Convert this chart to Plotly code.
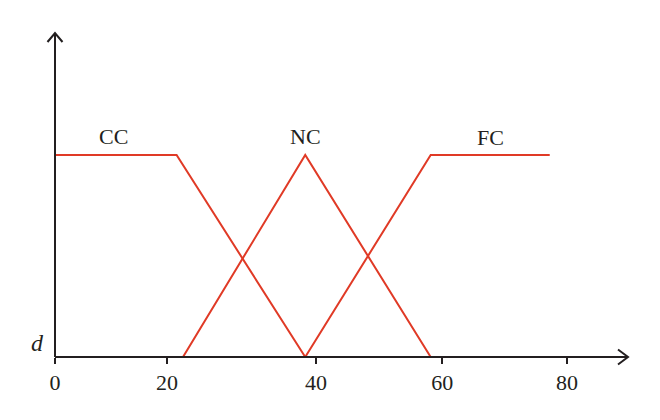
import plotly.graph_objects as go

# Data
series_names = ["CC", "NC", "FC"]
cc_x = [0, 19.0, 39.1]
cc_y = [1, 1, 0]
nc_x = [20.0, 39.1, 58.7]
nc_y = [0, 1, 0]
fc_x = [39.1, 58.7, 77.3]
fc_y = [0, 1, 1]
tick_vals = [0, 17.5, 40.8, 60.5, 80]
tick_text = ["0", "20", "40", "60", "80"]
label_x = [9.2, 39.1, 68.1]
label_y = [1.09, 1.09, 1.085]

RED = "#e03a26"
AX = "#231f20"
FONT = "Liberation Serif"

# pixel scale helpers (plot area 45..640 x, 25..370 y)
PXX = 6.4
PXY = 202.0
xmin, xmax = -10 / PXX, (640 - 55) / PXX
ymin, ymax = -(370 - 357) / PXY, (357 - 25) / PXY
x_tip = (628 - 55) / PXX
y_tip = (357 - 33) / PXY

fig = go.Figure()
for xs, ys in [(cc_x, cc_y), (nc_x, nc_y), (fc_x, fc_y)]:
    fig.add_trace(go.Scatter(x=xs, y=ys, mode="lines",
                             line=dict(color=RED, width=2), showlegend=False,
                             hoverinfo="skip"))

shapes = [
    dict(type="line", xref="x", yref="y", x0=0, y0=0, x1=x_tip, y1=0,
         line=dict(color=AX, width=2)),
    dict(type="line", xref="x", yref="y", x0=0, y0=0, x1=0, y1=y_tip,
         line=dict(color=AX, width=2)),
    dict(type="path", xref="x", yref="y",
         path=f"M {x_tip - 10/PXX},{7.5/PXY} L {x_tip},0 L {x_tip - 10/PXX},{-7.5/PXY}",
         line=dict(color=AX, width=2)),
    dict(type="path", xref="x", yref="y",
         path=f"M {-7.5/PXX},{y_tip - 9/PXY} L 0,{y_tip} L {7.5/PXX},{y_tip - 9/PXY}",
         line=dict(color=AX, width=2)),
]

annotations = []
for name, lx, ly in zip(series_names, label_x, label_y):
    annotations.append(dict(x=lx, y=ly, xref="x", yref="y", text=name,
                            showarrow=False, font=dict(family=FONT, size=22, color=AX)))
annotations.append(dict(x=0, y=0.07, xref="x", yref="y", xshift=-18, text="<i>d</i>",
                        showarrow=False, font=dict(family=FONT, size=24, color=AX)))

fig.update_layout(
    width=660, height=420,
    margin=dict(l=45, r=20, t=25, b=50),
    paper_bgcolor="white", plot_bgcolor="white",
    shapes=shapes, annotations=annotations,
    xaxis=dict(range=[xmin, xmax], showgrid=False, zeroline=False, showline=False,
               tickvals=tick_vals, ticktext=tick_text, ticks="outside", ticklen=6,
               tickwidth=1.5, tickcolor=AX, anchor="free", position=13 / 345,
               tickfont=dict(family=FONT, size=22, color=AX)),
    yaxis=dict(range=[ymin, ymax], visible=False),
)

fig.write_html("out.html", config={"displayModeBar": False},
               post_script="document.body.style.margin='0';")
